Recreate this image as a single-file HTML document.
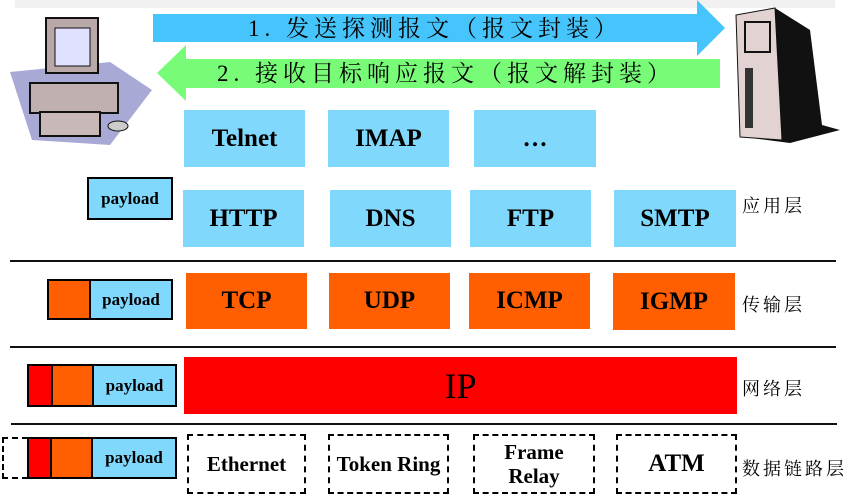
<!DOCTYPE html>
<html><head><meta charset="utf-8"><style>
body{margin:0;width:852px;height:494px;background:#fff;position:relative;overflow:hidden;font-family:"Liberation Serif","Noto Serif CJK SC",serif}
.b{position:absolute;display:flex;align-items:center;justify-content:center;font-weight:bold;font-size:25px;color:#000;box-sizing:border-box}
.lb{background:#80d8fc}.or{background:#ff5f00}
.d{border:2px dashed #000;font-size:21px;text-align:center;line-height:24px}
.p{position:absolute;border:2px solid #000;box-sizing:border-box;display:flex}
.p div{height:100%;box-sizing:border-box}
.pl{background:#80d8fc;flex:1;font-weight:bold;font-size:17px;display:flex;align-items:center;justify-content:center}
.hr{position:absolute;height:2px;background:#111}
.lab{position:absolute;font-size:18px;letter-spacing:3px;font-family:"Noto Serif CJK SC",serif}
.cap{position:absolute;font-size:23px;line-height:26px;letter-spacing:5px;white-space:nowrap}
</style></head><body>
<div style="position:absolute;left:15px;top:0;width:820px;height:8px;background:#f1f1f1"></div>
<svg style="position:absolute;left:0;top:0" width="852" height="494">
<polygon points="153,14 697,14 697,0 725,28 697,56 697,42 153,42" fill="#46c4fc"/>
<polygon points="720,59 186,59 186,45 157,73 186,101 186,88 720,88" fill="#78fc78"/>
<polygon points="10,72 110,62 152,90 110,145 32,140" fill="#a9a9d6"/>
<rect x="46" y="18" width="52" height="55" fill="#b8a8a8" stroke="#111" stroke-width="2"/>
<rect x="55" y="28" width="35" height="38" fill="#e0e0ff" stroke="#111"/>
<rect x="30" y="83" width="88" height="30" fill="#c0b0b0" stroke="#111" stroke-width="2"/>
<rect x="40" y="112" width="60" height="24" fill="#c8b8b8" stroke="#111" stroke-width="2"/>
<ellipse cx="118" cy="126" rx="10" ry="5" fill="#ccc" stroke="#111"/>
<polygon points="740,15 775,8 810,30 822,125 840,130 790,143 743,137" fill="#111"/>
<polygon points="736,15 775,8 782,140 740,137" fill="#e3d2d2" stroke="#111"/>
<rect x="745" y="22" width="25" height="30" fill="none" stroke="#111" stroke-width="2"/>
<rect x="745" y="68" width="8" height="60" fill="#333"/>
</svg>
<div class="cap" style="left:248px;top:16px">1. 发送探测报文（报文封装）</div>
<div class="cap" style="left:217px;top:61px">2. 接收目标响应报文（报文解封装）</div>

<div class="b lb" style="left:184px;top:110px;width:121px;height:57px">Telnet</div>
<div class="b lb" style="left:328px;top:110px;width:121px;height:57px">IMAP</div>
<div class="b lb" style="left:474px;top:110px;width:122px;height:57px">…</div>
<div class="b lb" style="left:183px;top:190px;width:121px;height:57px">HTTP</div>
<div class="b lb" style="left:330px;top:190px;width:121px;height:57px">DNS</div>
<div class="b lb" style="left:470px;top:190px;width:121px;height:57px">FTP</div>
<div class="b lb" style="left:614px;top:190px;width:122px;height:57px">SMTP</div>
<div class="lab" style="left:742px;top:192px">应用层</div>
<div class="p" style="left:87px;top:177px;width:86px;height:43px"><div class="pl">payload</div></div>
<div class="hr" style="left:10px;top:260px;width:826px"></div>

<div class="b or" style="left:186px;top:273px;width:121px;height:56px">TCP</div>
<div class="b or" style="left:329px;top:273px;width:121px;height:56px">UDP</div>
<div class="b or" style="left:469px;top:273px;width:121px;height:56px">ICMP</div>
<div class="b or" style="left:613px;top:273px;width:122px;height:57px">IGMP</div>
<div class="lab" style="left:742px;top:291px">传输层</div>
<div class="p" style="left:47px;top:279px;width:126px;height:41px"><div class="or" style="width:42px;border-right:2px solid #000"></div><div class="pl">payload</div></div>
<div class="hr" style="left:10px;top:346px;width:826px"></div>

<div class="b" style="left:184px;top:357px;width:553px;height:57px;background:#ff0000;font-weight:normal;font-size:36px">IP</div>
<div class="lab" style="left:742px;top:375px">网络层</div>
<div class="p" style="left:27px;top:364px;width:150px;height:43px"><div style="width:24px;background:#f00;border-right:2px solid #000"></div><div class="or" style="width:41px;border-right:2px solid #000"></div><div class="pl">payload</div></div>
<div class="hr" style="left:11px;top:423px;width:826px"></div>

<div class="b d" style="left:187px;top:434px;width:119px;height:60px">Ethernet</div>
<div class="b d" style="left:328px;top:434px;width:121px;height:60px">Token Ring</div>
<div class="b d" style="left:473px;top:434px;width:122px;height:60px">Frame<br>Relay</div>
<div class="b d" style="left:616px;top:434px;width:121px;height:60px;font-size:25px">ATM</div>
<div class="lab" style="left:742px;top:455px">数据链路层</div>
<div style="position:absolute;left:2px;top:437px;width:26px;height:42px;border:2px dashed #000;border-right:none;box-sizing:border-box"></div>
<div class="p" style="left:27px;top:437px;width:150px;height:42px"><div style="width:23px;background:#f00;border-right:2px solid #000"></div><div class="or" style="width:41px;border-right:2px solid #000"></div><div class="pl">payload</div></div>
</body></html>
